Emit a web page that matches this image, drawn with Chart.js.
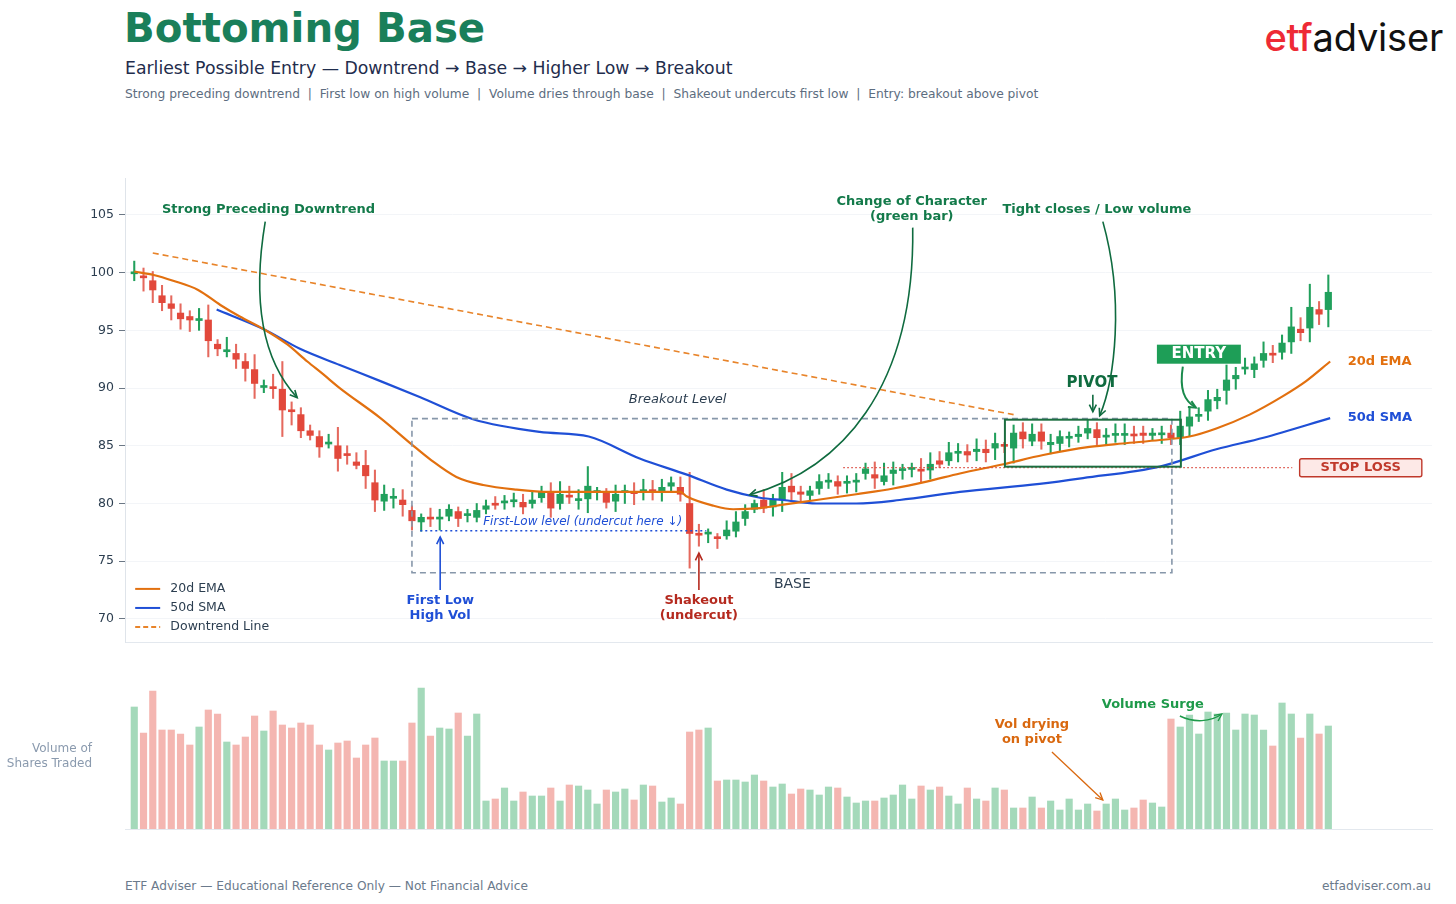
<!DOCTYPE html>
<html>
<head>
<meta charset="utf-8">
<script src="https://cdn.jsdelivr.net/npm/chart.js@4.4.1/dist/chart.umd.min.js"></script>
<style>
  body { margin: 0; background: #fff; font-family: "DejaVu Sans", sans-serif; }
  #page { position: relative; width: 1456px; height: 904px; overflow: hidden; background: #fff; }
  .txt { position: absolute; white-space: nowrap; line-height: 1; }
  #title { left: 124px; top: 9px; font-size: 40.3px; font-weight: bold; color: #1a7f5a; }
  #sub { left: 125px; top: 60px; font-size: 17.3px; color: #1f2d4d; }
  #sub2 { left: 125px; top: 88px; font-size: 12.25px; color: #5d6d80; }
  #logo { right: 13px; top: 18px; font-family: Inter, sans-serif; font-size: 38px; font-weight: 400; color: #111; letter-spacing: -0.2px; }
  #logo span { color: #ee2a35; font-weight: 500; }
  #volLabel { right: 1364px; top: 741px; font-size: 12px; color: #8a9aae; text-align: right; line-height: 15px; }
  #foot1 { left: 125px; top: 880px; font-size: 12.2px; color: #6b7a8c; }
  #foot2 { right: 25px; top: 880px; font-size: 12.2px; color: #6b7a8c; }
  canvas { position: absolute; left: 0; }
  #price { top: 160px; }
  #volume { top: 670px; }
</style>
</head>
<body>
<div id="page">
  <div class="txt" id="title">Bottoming Base</div>
  <div class="txt" id="sub">Earliest Possible Entry — Downtrend → Base → Higher Low → Breakout</div>
  <div class="txt" id="sub2">Strong preceding downtrend&nbsp; |&nbsp; First low on high volume&nbsp; |&nbsp; Volume dries through base&nbsp; |&nbsp; Shakeout undercuts first low&nbsp; |&nbsp; Entry: breakout above pivot</div>
  <div class="txt" id="logo"><span>etf</span>adviser</div>
  <canvas id="price" width="1456" height="500"></canvas>
  <canvas id="volume" width="1456" height="170"></canvas>
  <div class="txt" id="volLabel">Volume of<br>Shares Traded</div>
  <div class="txt" id="foot1">ETF Adviser — Educational Reference Only — Not Financial Advice</div>
  <div class="txt" id="foot2">etfadviser.com.au</div>
</div>
<script>
// daily candles
const opens = [
  99.9, 99.65, 99.3, 98.0, 97.3, 96.5, 96.2, 95.85, 95.9, 93.8,
  93.15, 93.0, 92.3, 91.6, 90.05, 90.05, 89.9, 88.05, 87.7, 86.3,
  85.8, 85.15, 85.0, 84.25, 83.6, 83.3, 81.8, 80.2, 80.45, 80.3,
  79.4, 78.4, 78.75, 78.65, 78.9, 79.3, 78.95, 78.8, 79.5, 79.95,
  80.05, 80.15, 80.1, 80.0, 80.5, 80.9, 80.0, 80.65, 80.25, 80.4,
  80.95, 80.9, 80.2, 80.95, 80.95, 81.0, 81.2, 81.0, 81.5, 81.4,
  80.0, 77.35, 77.35, 77.05, 77.2, 77.6, 78.7, 79.5, 80.3, 79.7,
  80.3, 81.5, 81.0, 80.7, 81.3, 81.85, 81.9, 81.75, 81.85, 82.6,
  82.5, 81.9, 82.6, 82.85, 82.95, 82.9, 82.9, 83.7, 83.7, 84.35,
  84.5, 84.5, 84.7, 84.8, 85.05, 84.8, 86.2, 85.4, 86.2, 85.1,
  85.2, 85.65, 85.8, 86.1, 86.4, 85.75, 85.9, 85.9, 85.95, 86.1,
  85.9, 85.95, 86.1, 85.7, 86.7, 87.55, 88.0, 88.9, 89.8, 90.8,
  91.65, 91.6, 92.4, 92.95, 93.1, 94.0, 95.1, 95.2, 96.8, 96.8
]
const closes = [
  100.0, 99.55, 98.5, 97.4, 96.9, 96.0, 95.9, 95.95, 94.1, 93.4,
  93.25, 92.5, 91.7, 90.4, 90.15, 89.95, 88.1, 87.95, 86.3, 85.9,
  84.9, 85.25, 83.9, 84.15, 83.3, 82.4, 80.3, 80.8, 80.55, 79.9,
  78.5, 78.8, 78.65, 78.75, 79.5, 78.7, 79.05, 79.4, 79.8, 79.85,
  80.15, 80.25, 79.7, 80.3, 81.0, 79.6, 80.8, 80.55, 80.35, 81.5,
  81.05, 80.1, 80.8, 81.05, 80.85, 81.2, 81.0, 81.4, 81.8, 80.8,
  77.4, 77.25, 77.45, 76.95, 77.7, 78.4, 79.3, 80.0, 79.6, 80.3,
  81.4, 81.0, 80.8, 81.1, 81.9, 81.95, 81.5, 81.85, 81.95, 83.0,
  82.2, 82.4, 82.9, 82.95, 83.05, 82.8, 83.4, 83.4, 84.4, 84.45,
  84.2, 84.7, 84.4, 85.2, 84.95, 86.1, 85.6, 86.0, 85.4, 85.3,
  85.8, 85.75, 86.0, 86.5, 85.7, 85.85, 86.0, 86.0, 85.85, 85.9,
  86.1, 86.05, 85.7, 86.7, 87.5, 87.65, 89.0, 89.2, 90.7, 91.1,
  91.75, 92.1, 93.0, 92.85, 93.9, 95.3, 94.8, 97.0, 96.4, 98.3
]
const highs = [
  101.0, 100.4, 100.1, 98.9, 98.0, 97.3, 96.7, 96.9, 97.2, 94.2,
  94.4, 93.8, 93.0, 92.9, 90.7, 91.2, 92.3, 88.8, 88.3, 86.8,
  86.3, 86.0, 86.6, 85.0, 84.4, 84.6, 82.9, 81.6, 81.3, 81.2,
  79.8, 79.1, 79.6, 79.5, 79.9, 79.7, 79.5, 80.0, 80.3, 80.6,
  80.7, 80.9, 80.8, 81.0, 81.5, 81.8, 81.9, 81.5, 81.2, 83.2,
  81.4, 81.3, 81.6, 81.6, 81.8, 82.1, 82.0, 82.1, 82.3, 82.3,
  82.7, 78.2, 77.8, 77.4, 78.5, 79.3, 79.9, 80.3, 81.2, 80.8,
  82.7, 82.6, 81.5, 81.5, 82.5, 82.6, 82.4, 82.4, 82.6, 83.5,
  83.6, 83.5, 83.6, 83.4, 83.5, 83.9, 84.4, 84.5, 85.3, 85.2,
  85.1, 85.6, 85.5, 86.1, 85.3, 86.8, 87.0, 86.9, 86.9, 86.0,
  86.3, 86.2, 86.7, 87.2, 87.0, 86.5, 86.9, 86.9, 86.7, 86.7,
  86.5, 86.7, 86.8, 88.0, 88.4, 88.3, 89.8, 89.9, 92.0, 91.8,
  92.6, 92.7, 94.0, 93.7, 94.6, 97.0, 96.1, 99.0, 97.5, 99.8
]
const lows = [
  99.3, 98.4, 97.4, 96.7, 95.9, 95.1, 94.9, 95.0, 92.7, 92.8,
  92.7, 91.7, 90.6, 89.1, 89.6, 89.1, 85.8, 86.8, 85.7, 85.5,
  84.0, 84.8, 82.8, 83.4, 83.0, 81.3, 79.3, 79.4, 79.6, 78.9,
  77.7, 77.6, 78.0, 77.7, 78.5, 78.0, 78.4, 78.4, 79.1, 79.5,
  79.5, 79.7, 79.1, 79.6, 80.1, 78.8, 79.5, 80.0, 79.5, 79.2,
  80.3, 79.6, 79.3, 80.0, 79.9, 80.3, 80.3, 80.2, 81.0, 80.2,
  74.4, 76.3, 76.6, 76.1, 76.9, 77.1, 78.1, 79.2, 79.2, 78.9,
  79.3, 80.3, 80.2, 80.3, 80.8, 81.3, 80.8, 80.9, 81.0, 82.1,
  81.3, 81.6, 81.6, 82.1, 82.3, 81.8, 82.1, 83.1, 83.3, 83.6,
  83.6, 83.7, 83.6, 83.8, 84.4, 83.5, 84.8, 85.0, 84.7, 84.3,
  84.5, 84.9, 85.3, 85.6, 85.1, 85.1, 85.3, 85.1, 85.2, 85.2,
  85.5, 85.2, 85.1, 85.1, 85.8, 87.1, 87.2, 88.2, 88.6, 89.9,
  91.2, 90.9, 91.8, 92.2, 92.5, 93.0, 94.1, 94.0, 95.5, 95.3
]
// volume in relative units (tallest bar ~141)
const volumes = [
  122, 96, 138, 99, 99, 95, 84, 102, 119, 115,
  87, 84, 92, 113, 98, 118, 104, 101, 106, 104,
  84, 79, 86, 88, 71, 84, 91, 68, 68, 68,
  106, 141, 93, 101, 100, 116, 93, 115, 28, 30,
  41, 28, 37, 33, 33, 41, 28, 44, 43, 39,
  25, 39, 37, 40, 29, 44, 43, 27, 31, 25,
  97, 99, 101, 48, 49, 49, 47, 54, 48, 42,
  45, 35, 40, 39, 34, 42, 41, 32, 26, 28,
  28, 31, 34, 44, 30, 43, 39, 42, 33, 25,
  41, 30, 28, 41, 39, 21, 21, 32, 21, 28,
  19, 30, 19, 25, 18, 25, 30, 19, 21, 29,
  26, 22, 110, 102, 114, 95, 117, 115, 116, 99,
  115, 114, 99, 83, 126, 115, 91, 115, 95, 103
]
const days = opens.map((_, i) => i)

// moving averages (day position -> value)
const emaDays   = [0, 2.1, 4.2, 6.9, 9.3, 11.4, 14.0, 16.5, 18.7, 20.4, 22.2, 26.6, 30.0, 32.0, 34.8, 37.7, 41.3, 44.9, 50.3, 54.6, 59.0, 59.7, 62.6, 64.7, 67.6, 70.1, 73.7, 78.0, 82.0, 85.6, 89.2, 93.9, 98.2, 103.2, 106.8, 110.8, 114.0, 116.9, 120.5, 124.1, 126.6, 129.2]
const emaValues = [100.1, 99.8, 99.3, 98.5, 97.2, 96.2, 95.1, 93.8, 92.3, 91.2, 90.0, 87.4, 85.1, 83.8, 82.3, 81.6, 81.2, 81.0, 81.0, 81.0, 81.0, 80.6, 79.8, 79.5, 79.6, 79.9, 80.3, 80.8, 81.3, 81.9, 82.6, 83.4, 84.2, 84.9, 85.2, 85.5, 85.8, 86.5, 87.7, 89.3, 90.6, 92.3]
const smaDays   = [8.9, 14.0, 17.9, 22.2, 26.6, 30.9, 36.6, 43.8, 49.1, 54.6, 59.7, 64.0, 67.6, 70.1, 73.7, 78.0, 82.7, 89.2, 97.8, 102.5, 110.8, 116.9, 122.0, 129.2]
const smaValues = [96.8, 95.1, 93.4, 92.0, 90.6, 89.2, 87.3, 86.2, 85.8, 83.9, 82.5, 81.2, 80.5, 80.3, 80.0, 80.0, 80.3, 81.0, 81.7, 82.2, 83.2, 84.7, 85.7, 87.4]
const trendDays   = [2, 95]
const trendValues = [101.7, 87.7]

const yTicks = [70, 75, 80, 85, 90, 95, 100, 105]

const GREEN = '#21a05c'
const RED = '#e2483b'
const isUp = days.map(i => closes[i] >= opens[i])

Chart.defaults.font.family = '"DejaVu Sans", sans-serif'

// ---------- drawing helpers for the annotation layer ----------
function txt(ctx, s, x, y, font, color, align) {
    ctx.font = font
    ctx.fillStyle = color
    ctx.textAlign = align || 'center'
    ctx.textBaseline = 'middle'
    ctx.fillText(s, x, y)
}

function arrow(ctx, pts, color, width) {
    ctx.save()
    ctx.strokeStyle = color
    ctx.lineWidth = width || 1.6
    ctx.setLineDash([])
    ctx.beginPath()
    ctx.moveTo(pts[0][0], pts[0][1])
    if (pts.length == 4) ctx.bezierCurveTo(pts[1][0], pts[1][1], pts[2][0], pts[2][1], pts[3][0], pts[3][1])
    else ctx.lineTo(pts[1][0], pts[1][1])
    ctx.stroke()
    let end = pts[pts.length - 1], prev = pts[pts.length - 2]
    let a = Math.atan2(end[1] - prev[1], end[0] - prev[0])
    let L = 8
    ctx.beginPath()
    ctx.moveTo(end[0] - L * Math.cos(a - 0.45), end[1] - L * Math.sin(a - 0.45))
    ctx.lineTo(end[0], end[1])
    ctx.lineTo(end[0] - L * Math.cos(a + 0.45), end[1] - L * Math.sin(a + 0.45))
    ctx.stroke()
    ctx.restore()
}

const priceNotes = {
    id: 'priceNotes',
    afterDatasetsDraw(chart) {
        const { ctx, scales: { x, y } } = chart
        const X = v => x.getPixelForValue(v)
        const Y = v => y.getPixelForValue(v)
        const P = (i, v) => [X(i), Y(v)]
        const bold13 = 'bold 13px "DejaVu Sans"'
        ctx.save()

        // base box
        ctx.setLineDash([6, 4])
        ctx.strokeStyle = '#8797aa'
        ctx.lineWidth = 1.6
        ctx.strokeRect(X(30), Y(87.35), X(112.1) - X(30), Y(74) - Y(87.35))

        // first-low level
        ctx.setLineDash([2, 3])
        ctx.strokeStyle = '#1f4fd6'
        ctx.lineWidth = 1.5
        ctx.beginPath(); ctx.moveTo(X(30.9), Y(77.64)); ctx.lineTo(X(61.8), Y(77.64)); ctx.stroke()

        // stop loss level
        ctx.setLineDash([1.5, 2.5])
        ctx.strokeStyle = '#d9453a'
        ctx.lineWidth = 1.2
        ctx.beginPath(); ctx.moveTo(X(76.6), Y(83.1)); ctx.lineTo(X(125.1), Y(83.1)); ctx.stroke()
        ctx.setLineDash([])

        // pivot box
        ctx.strokeStyle = '#1c6e40'
        ctx.lineWidth = 2
        ctx.strokeRect(X(94.06), Y(87.26), X(113.07) - X(94.06), Y(83.19) - Y(87.26))

        // stop loss label
        ctx.fillStyle = '#fde9e7'
        ctx.strokeStyle = '#c0392b'
        ctx.lineWidth = 1.4
        ctx.beginPath()
        ctx.roundRect(X(125.9), Y(83.1) - 9, X(139.1) - X(125.9), 18, 2)
        ctx.fill(); ctx.stroke()
        txt(ctx, 'STOP LOSS', X(132.5), Y(83.1), bold13, '#c0392b')

        // entry label
        ctx.fillStyle = '#1e9e57'
        ctx.fillRect(X(110.48), Y(93.76), X(119.55) - X(110.48), Y(92.11) - Y(93.76))
        txt(ctx, 'ENTRY', X(115.0), Y(92.93), 'bold 15px "DejaVu Sans"', '#ffffff')
        arrow(ctx, [P(113.28, 91.85), P(112.9, 89.9), P(113.4, 88.9), P(114.69, 88.3)], '#1a8a4c', 2)

        // texts
        txt(ctx, 'Breakout Level', X(58.7), Y(89.0), 'italic 13px "DejaVu Sans"', '#2c3e50')
        txt(ctx, 'BASE', X(71.1), Y(73.0), '14px "DejaVu Sans"', '#2c3e50')
        txt(ctx, 'First-Low level (undercut here ↓)', X(37.7), Y(78.4), 'italic 12px "DejaVu Sans"', '#1f4fd6', 'left')

        txt(ctx, 'First Low', X(33.05), Y(71.6), bold13, '#1f4fd6')
        txt(ctx, 'High Vol', X(33.05), Y(70.3), bold13, '#1f4fd6')
        arrow(ctx, [P(33.05, 72.5), P(33.05, 77.1)], '#1f4fd6', 1.6)

        txt(ctx, 'Shakeout', X(61.0), Y(71.6), bold13, '#b52a1f')
        txt(ctx, '(undercut)', X(61.0), Y(70.3), bold13, '#b52a1f')
        arrow(ctx, [P(61.0, 72.5), P(61.0, 75.7)], '#b52a1f', 1.6)

        const dkGreen = '#137a4a'
        txt(ctx, 'Strong Preceding Downtrend', X(14.5), Y(105.5), bold13, dkGreen)
        arrow(ctx, [P(14.15, 104.42), P(12.74, 97.66), P(13.82, 92.46), P(17.6, 89.17)], '#0f6b3f', 1.6)

        txt(ctx, 'Change of Character', X(84.0), Y(106.15), bold13, dkGreen)
        txt(ctx, '(green bar)', X(84.0), Y(104.85), bold13, dkGreen)
        arrow(ctx, [P(84.1, 103.9), P(84.34, 89.86), P(76.24, 82.93), P(66.5, 80.76)], '#0f6b3f', 1.6)

        txt(ctx, 'Tight closes / Low volume', X(104.0), Y(105.46), bold13, dkGreen)
        arrow(ctx, [P(104.64, 104.42), P(107.0, 97.66), P(105.94, 90.73), P(104.3, 87.6)], '#0f6b3f', 1.6)

        txt(ctx, 'PIVOT', X(103.46), Y(90.4), 'bold 15px "DejaVu Sans"', '#0f6b3f')
        arrow(ctx, [P(103.56, 89.43), P(103.56, 87.95)], '#0f6b3f', 1.6)

        txt(ctx, '20d EMA', X(131.1), Y(92.29), bold13, '#e2700f', 'left')
        txt(ctx, '50d SMA', X(131.1), Y(87.44), bold13, '#1f4fd6', 'left')

        // legend
        const leg = [['20d EMA', '#e2700f', [], 72.6], ['50d SMA', '#1f4fd6', [], 70.95], ['Downtrend Line', '#e8842a', [5, 3], 69.3]]
        leg.forEach(([name, col, dash, v]) => {
            ctx.strokeStyle = col
            ctx.lineWidth = 2
            ctx.setLineDash(dash)
            ctx.beginPath(); ctx.moveTo(X(0.1), Y(v)); ctx.lineTo(X(2.8), Y(v)); ctx.stroke()
            txt(ctx, name, X(3.9), Y(v), '12.5px "DejaVu Sans"', '#2c3e50', 'left')
        })
        ctx.restore()
    }
}

const volumeNotes = {
    id: 'volumeNotes',
    afterDatasetsDraw(chart) {
        const { ctx, scales: { x, y } } = chart
        const P = (i, v) => [x.getPixelForValue(i), y.getPixelForValue(v)]
        const bold13 = 'bold 13px "DejaVu Sans"'
        ctx.save()
        txt(ctx, 'Volume Surge', ...P(110.04, 124), bold13, '#1e9a4a')
        arrow(ctx, [P(112.96, 113), P(114.5, 106), P(116.3, 107), P(117.5, 115)], '#1e9a4a', 1.4)
        txt(ctx, 'Vol drying', ...P(96.98, 104), bold13, '#d9680f')
        txt(ctx, 'on pivot', ...P(96.98, 89), bold13, '#d9680f')
        arrow(ctx, [P(99.14, 77), P(104.64, 29)], '#d9680f', 1.3)
        ctx.restore()
    }
}

// ---------- price chart ----------
new Chart(document.getElementById('price'), {
    type: 'bar',
    data: {
        datasets: [
            {
                type: 'line', label: '20d EMA',
                data: emaDays.map((d, k) => ({ x: d, y: emaValues[k] })),
                borderColor: '#e2700f', borderWidth: 2.2, pointRadius: 0,
                cubicInterpolationMode: 'monotone', order: 1
            },
            {
                type: 'line', label: '50d SMA',
                data: smaDays.map((d, k) => ({ x: d, y: smaValues[k] })),
                borderColor: '#1f4fd6', borderWidth: 2.2, pointRadius: 0,
                cubicInterpolationMode: 'monotone', order: 1
            },
            {
                type: 'line', label: 'Downtrend Line',
                data: trendDays.map((d, k) => ({ x: d, y: trendValues[k] })),
                borderColor: '#e8842a', borderWidth: 1.6, borderDash: [6, 4], pointRadius: 0, order: 1
            },
            {
                label: 'wick',
                data: days.map(i => ({ x: i, y: [lows[i], highs[i]] })),
                backgroundColor: days.map(i => isUp[i] ? GREEN : '#e5695e'),
                barThickness: 1.4, grouped: false, order: 3
            },
            {
                label: 'body',
                data: days.map(i => ({ x: i, y: [opens[i], closes[i]] })),
                backgroundColor: days.map(i => isUp[i] ? GREEN : RED),
                barThickness: 6.5, minBarLength: 2, grouped: false, order: 2
            }
        ]
    },
    options: {
        responsive: false,
        animation: false,
        layout: { padding: { left: 0, right: 24, top: 18, bottom: 18 } },
        plugins: { legend: { display: false }, tooltip: { enabled: false } },
        scales: {
            x: {
                type: 'linear', min: -1, max: 140.2, offset: false,
                ticks: { display: false },
                grid: { display: false },
                border: { display: true, color: '#e3e8ee', width: 1 },
                afterFit: s => { s.height = 0 }
            },
            y: {
                min: 68, max: 108.2,
                afterBuildTicks: s => { s.ticks = yTicks.map(v => ({ value: v })) },
                ticks: { color: '#2c3e50', font: { size: 12.5 }, padding: 5 },
                grid: { color: '#f3f5f8', tickColor: '#6b7785', tickLength: 6 },
                border: { color: '#dfe4ea' },
                afterFit: s => { s.width = 125 }
            }
        }
    },
    plugins: [priceNotes]
})

// ---------- volume chart ----------
new Chart(document.getElementById('volume'), {
    type: 'bar',
    data: {
        datasets: [{
            label: 'Volume',
            data: days.map(i => ({ x: i, y: volumes[i] })),
            backgroundColor: days.map(i => isUp[i] ? 'rgba(38,165,90,0.42)' : 'rgba(228,82,70,0.42)'),
            barThickness: 6.5
        }]
    },
    options: {
        responsive: false,
        animation: false,
        layout: { padding: { left: 0, right: 24, top: 13, bottom: 11 } },
        plugins: { legend: { display: false }, tooltip: { enabled: false } },
        scales: {
            x: {
                type: 'linear', min: -1, max: 140.2, offset: false,
                ticks: { display: false },
                grid: { display: false },
                border: { display: true, color: '#e3e8ee' },
                afterFit: s => { s.height = 0 }
            },
            y: {
                min: 0, max: 146,
                ticks: { display: false },
                grid: { display: false },
                border: { display: false },
                afterFit: s => { s.width = 125 }
            }
        }
    },
    plugins: [volumeNotes]
})
</script>
</body>
</html>
